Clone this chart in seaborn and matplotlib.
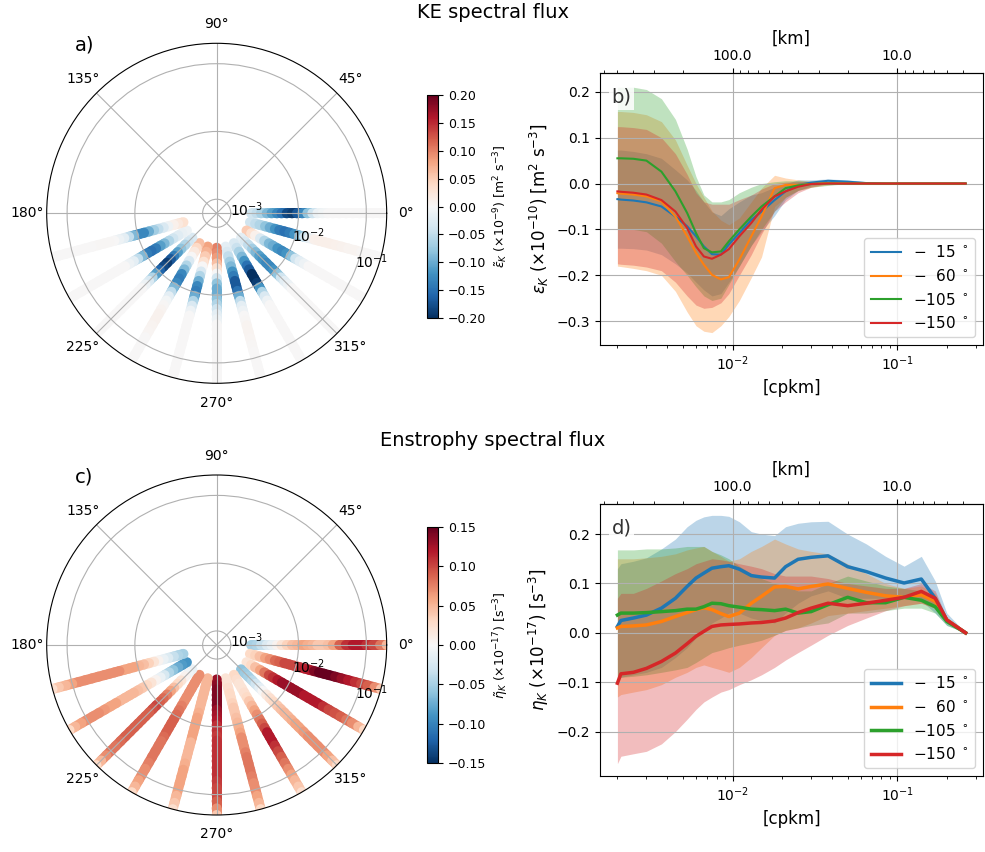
import numpy as np
import matplotlib
matplotlib.use("Agg")
import matplotlib.pyplot as plt
import seaborn as sns
from matplotlib.collections import LineCollection
from matplotlib.cm import ScalarMappable
from matplotlib.ticker import FixedLocator, FormatStrFormatter

# ---------------------------------------------------------------- data
# wavenumber grid of the line panels [cpkm]
k = [0.002, 0.0021, 0.0025, 0.003, 0.0037, 0.0045, 0.0053, 0.006, 0.0067, 0.0075,
     0.0085, 0.0095, 0.011, 0.013, 0.015, 0.018, 0.021, 0.025, 0.03, 0.038,
     0.05, 0.065, 0.085, 0.11, 0.14, 0.17, 0.2, 0.26]

angle_labels = ['$-$\u200715 $^\\circ$', '$-$\u200760 $^\\circ$',
                '$-$105 $^\\circ$', '$-$150 $^\\circ$']

# KE flux, panel b (x1e-10)
ke_15 = [-0.034, -0.035, -0.037, -0.041, -0.05, -0.072, -0.093, -0.115, -0.137, -0.154,
         -0.155, -0.133, -0.108, -0.079, -0.061, -0.036, -0.017, -0.003, 0.002, 0.006,
         0.004, 0.001, 0.0, 0.0, 0.0, 0.0, 0.0, 0.0]
ke_15_lo = [-0.141, -0.141, -0.142, -0.145, -0.155, -0.175, -0.195, -0.215, -0.232, -0.245,
            -0.24, -0.215, -0.18, -0.135, -0.105, -0.07, -0.035, -0.015, -0.005, 0.0,
            0.0, -0.002, 0.0, 0.0, 0.0, 0.0, 0.0, 0.0]
ke_15_hi = [0.073, 0.073, 0.07, 0.065, 0.055, 0.03, 0.008, -0.015, -0.04, -0.062,
            -0.07, -0.055, -0.04, -0.025, -0.02, -0.008, 0.0, 0.008, 0.008, 0.01,
            0.008, 0.004, 0.0, 0.0, 0.0, 0.0, 0.0, 0.0]

ke_60 = [-0.021, -0.022, -0.024, -0.028, -0.039, -0.072, -0.115, -0.151, -0.177, -0.199,
         -0.209, -0.204, -0.166, -0.115, -0.072, -0.01, -0.003, -0.003, -0.001, 0.001,
         0.0, 0.0, 0.0, 0.0, 0.0, 0.0, 0.0, 0.0]
ke_60_lo = [-0.18, -0.181, -0.185, -0.19, -0.2, -0.235, -0.28, -0.31, -0.322, -0.325,
            -0.31, -0.29, -0.255, -0.205, -0.16, -0.05, -0.03, -0.015, -0.008, -0.003,
            0.0, 0.0, 0.0, 0.0, 0.0, 0.0, 0.0, 0.0]
ke_60_hi = [0.157, 0.157, 0.155, 0.15, 0.135, 0.095, 0.04, 0.0, -0.03, -0.06,
            -0.08, -0.09, -0.075, -0.04, -0.01, 0.018, 0.012, 0.008, 0.005, 0.004,
            0.0, 0.0, 0.0, 0.0, 0.0, 0.0, 0.0, 0.0]

ke_105 = [0.055, 0.055, 0.054, 0.05, 0.026, -0.017, -0.064, -0.108, -0.141, -0.15,
          -0.148, -0.126, -0.1, -0.072, -0.05, -0.028, -0.01, -0.004, -0.001, 0.0,
          0.0, 0.0, 0.0, 0.0, 0.0, 0.0, 0.0, 0.0]
ke_105_lo = [-0.1, -0.1, -0.1, -0.105, -0.13, -0.17, -0.2, -0.225, -0.245, -0.255,
             -0.25, -0.22, -0.18, -0.135, -0.1, -0.06, -0.03, -0.015, -0.008, -0.004,
             0.0, 0.0, 0.0, 0.0, 0.0, 0.0, 0.0, 0.0]
ke_105_hi = [0.21, 0.21, 0.21, 0.205, 0.185, 0.14, 0.075, 0.015, -0.025, -0.04,
             -0.04, -0.035, -0.02, -0.008, 0.0, 0.004, 0.006, 0.006, 0.005, 0.004,
             0.0, 0.0, 0.0, 0.0, 0.0, 0.0, 0.0, 0.0]

ke_150 = [-0.017, -0.018, -0.02, -0.024, -0.036, -0.061, -0.097, -0.137, -0.159, -0.164,
          -0.155, -0.143, -0.115, -0.086, -0.057, -0.028, -0.017, -0.007, -0.001, 0.0,
          0.0, 0.0, 0.0, 0.0, 0.0, 0.0, 0.0, 0.0]
ke_150_lo = [-0.175, -0.176, -0.178, -0.182, -0.19, -0.215, -0.245, -0.265, -0.272, -0.27,
             -0.26, -0.24, -0.2, -0.155, -0.11, -0.06, -0.04, -0.02, -0.008, 0.0,
             0.0, 0.0, 0.0, 0.0, 0.0, 0.0, 0.0, 0.0]
ke_150_hi = [0.124, 0.124, 0.122, 0.118, 0.1, 0.065, 0.02, -0.02, -0.04, -0.045,
             -0.045, -0.045, -0.035, -0.025, -0.012, 0.0, 0.003, 0.004, 0.004, 0.0,
             0.0, 0.0, 0.0, 0.0, 0.0, 0.0, 0.0, 0.0]

# enstrophy flux, panel d (x1e-17)
en_15 = [0.013, 0.025, 0.03, 0.036, 0.05, 0.07, 0.094, 0.111, 0.121, 0.131,
         0.134, 0.136, 0.129, 0.116, 0.113, 0.111, 0.134, 0.149, 0.153, 0.156,
         0.134, 0.124, 0.111, 0.101, 0.109, 0.07, 0.026, 0.0]
en_15_lo = [-0.1, -0.09, -0.085, -0.08, -0.07, -0.05, -0.03, -0.01, 0.005, 0.02,
            0.03, 0.04, 0.04, 0.03, 0.025, 0.02, 0.04, 0.06, 0.075, 0.085,
            0.07, 0.07, 0.07, 0.07, 0.065, 0.04, 0.015, 0.0]
en_15_hi = [0.13, 0.14, 0.145, 0.152, 0.17, 0.19, 0.215, 0.228, 0.235, 0.238,
            0.238, 0.236, 0.225, 0.205, 0.2, 0.197, 0.215, 0.222, 0.225, 0.226,
            0.2, 0.18, 0.155, 0.135, 0.155, 0.105, 0.04, 0.0]

en_60 = [0.01, 0.013, 0.014, 0.016, 0.023, 0.033, 0.041, 0.047, 0.051, 0.047,
         0.039, 0.033, 0.04, 0.06, 0.074, 0.093, 0.094, 0.089, 0.094, 0.099,
         0.09, 0.082, 0.075, 0.072, 0.077, 0.064, 0.026, 0.0]
en_60_lo = [-0.13, -0.125, -0.12, -0.115, -0.105, -0.09, -0.08, -0.07, -0.065, -0.07,
            -0.075, -0.08, -0.07, -0.05, -0.03, -0.005, 0.005, 0.01, 0.02, 0.035,
            0.04, 0.045, 0.05, 0.055, 0.06, 0.05, 0.02, 0.0]
en_60_hi = [0.15, 0.15, 0.15, 0.152, 0.155, 0.16, 0.168, 0.172, 0.175, 0.165,
            0.155, 0.145, 0.15, 0.165, 0.175, 0.19, 0.18, 0.17, 0.165, 0.16,
            0.14, 0.12, 0.1, 0.09, 0.095, 0.08, 0.032, 0.0]

en_105 = [0.036, 0.04, 0.04, 0.041, 0.043, 0.045, 0.048, 0.048, 0.053, 0.06,
          0.059, 0.055, 0.052, 0.048, 0.047, 0.045, 0.048, 0.04, 0.043, 0.057,
          0.072, 0.061, 0.061, 0.072, 0.066, 0.053, 0.023, 0.0]
en_105_lo = [-0.095, -0.09, -0.088, -0.085, -0.08, -0.075, -0.07, -0.06, -0.05, -0.04,
             -0.035, -0.03, -0.025, -0.02, -0.015, -0.005, 0.005, 0.01, 0.015, 0.02,
             0.04, 0.04, 0.045, 0.05, 0.05, 0.04, 0.015, 0.0]
en_105_hi = [0.168, 0.168, 0.168, 0.17, 0.17, 0.172, 0.175, 0.175, 0.175, 0.165,
             0.158, 0.15, 0.135, 0.12, 0.11, 0.1, 0.095, 0.085, 0.085, 0.1,
             0.115, 0.105, 0.095, 0.09, 0.085, 0.07, 0.03, 0.0]

en_150 = [-0.102, -0.083, -0.08, -0.072, -0.058, -0.041, -0.022, -0.007, 0.003, 0.013,
          0.016, 0.017, 0.018, 0.02, 0.021, 0.024, 0.03, 0.041, 0.05, 0.06,
          0.055, 0.06, 0.066, 0.072, 0.084, 0.07, 0.026, 0.0]
en_150_lo = [-0.265, -0.25, -0.245, -0.24, -0.225, -0.2, -0.175, -0.155, -0.14, -0.13,
             -0.12, -0.115, -0.105, -0.095, -0.085, -0.07, -0.055, -0.04, -0.025, -0.005,
             0.015, 0.03, 0.045, 0.055, 0.06, 0.05, 0.02, 0.0]
en_150_hi = [0.07, 0.08, 0.08, 0.09, 0.105, 0.12, 0.13, 0.14, 0.145, 0.15,
             0.148, 0.145, 0.14, 0.135, 0.13, 0.12, 0.115, 0.115, 0.115, 0.11,
             0.1, 0.095, 0.09, 0.09, 0.1, 0.085, 0.03, 0.0]

# polar panels: direction of each ray [deg] and wavenumbers along a ray [cpkm]
ray_angles = [0, -15, -30, -45, -60, -75, -90, -105, -120, -135, -150, -165]
k_polar = [0.002, 0.0024, 0.0028, 0.0034, 0.004, 0.0048, 0.0056, 0.0067, 0.008, 0.0095,
           0.0113, 0.0135, 0.016, 0.019, 0.0226, 0.027, 0.032, 0.04, 0.05, 0.063,
           0.08, 0.1, 0.125, 0.16, 0.2, 0.24]

# panel a, x1e-9, one row per ray angle
ke_rays = [
    [-0.04, -0.05, -0.065, -0.09, -0.11, -0.13, -0.15, -0.18, -0.19, -0.17,
     -0.13, -0.08, -0.04, -0.01, -0.005, 0, 0, 0, 0, 0, 0, 0, 0, 0, 0, 0],
    [-0.04, -0.05, -0.06, -0.08, -0.1, -0.12, -0.14, -0.15, -0.14, -0.12,
     -0.08, -0.04, -0.01, 0.01, 0.012, 0.012, 0.012, 0.01, 0.008, 0.006, 0.005, 0.003, 0, 0, 0, 0],
    [0.05, 0.03, 0.01, -0.03, -0.06, -0.09, -0.1, -0.12, -0.13, -0.12,
     -0.08, -0.04, -0.02, -0.01, 0, 0, 0, 0, 0, 0, 0, 0, 0, 0, 0, 0],
    [-0.02, -0.03, -0.05, -0.07, -0.09, -0.11, -0.12, -0.13, -0.13, -0.12,
     -0.08, -0.04, -0.02, -0.01, 0, 0, 0, 0, 0, 0, 0, 0, 0, 0, 0, 0],
    [-0.03, -0.045, -0.065, -0.09, -0.12, -0.15, -0.17, -0.2, -0.2, -0.19,
     -0.12, -0.06, -0.03, -0.01, 0, 0, 0, 0, 0, 0, 0, 0, 0, 0, 0, 0],
    [-0.02, -0.03, -0.05, -0.07, -0.09, -0.12, -0.14, -0.17, -0.17, -0.15,
     -0.1, -0.05, -0.02, -0.01, 0, 0.003, 0.005, 0.005, 0.004, 0.003, 0, 0, 0, 0, 0, 0],
    [0.1, 0.095, 0.085, 0.06, 0.03, 0.0, -0.04, -0.08, -0.1, -0.1,
     -0.08, -0.06, -0.04, -0.02, -0.01, 0, 0, 0, 0, 0, 0, 0, 0, 0, 0, 0],
    [0.08, 0.07, 0.05, 0.03, 0.0, -0.03, -0.06, -0.1, -0.13, -0.14,
     -0.1, -0.06, -0.03, -0.01, 0, 0, 0, 0, 0, 0, 0, 0, 0, 0, 0, 0],
    [0.06, 0.04, 0.02, 0.0, -0.03, -0.06, -0.09, -0.13, -0.14, -0.13,
     -0.09, -0.05, -0.02, -0.005, 0.003, 0.006, 0.008, 0.008, 0.006, 0.004, 0, 0, 0, 0, 0, 0],
    [-0.03, -0.04, -0.06, -0.08, -0.11, -0.14, -0.17, -0.19, -0.18, -0.16,
     -0.11, -0.06, -0.03, -0.01, 0, 0, 0, 0, 0, 0, 0, 0, 0, 0, 0, 0],
    [-0.01, -0.015, -0.025, -0.04, -0.06, -0.09, -0.11, -0.14, -0.15, -0.14,
     -0.09, -0.05, -0.02, -0.01, 0, 0, 0, 0, 0, 0, 0, 0, 0, 0, 0, 0],
    [0.03, 0.02, 0.01, -0.01, -0.03, -0.05, -0.07, -0.1, -0.13, -0.13,
     -0.09, -0.05, -0.02, -0.01, 0, 0.002, 0.003, 0.003, 0, 0, 0, 0, 0, 0, 0, 0],
]

# panel c, x1e-17, one row per ray angle
en_rays = [
    [-0.05, -0.045, -0.035, -0.02, -0.01, 0.005, 0.02, 0.035, 0.045, 0.05,
     0.06, 0.055, 0.05, 0.04, 0.04, 0.045, 0.06, 0.09, 0.11, 0.12, 0.12, 0.11, 0.1, 0.08, 0.05, 0.02],
    [0.03, 0.035, 0.045, 0.06, 0.07, 0.085, 0.09, 0.1, 0.1, 0.1,
     0.11, 0.115, 0.12, 0.14, 0.15, 0.15, 0.15, 0.14, 0.13, 0.12, 0.11, 0.1, 0.09, 0.07, 0.04, 0.01],
    [0.02, 0.03, 0.045, 0.06, 0.08, 0.1, 0.11, 0.12, 0.13, 0.13,
     0.13, 0.13, 0.13, 0.12, 0.12, 0.12, 0.12, 0.11, 0.1, 0.095, 0.09, 0.08, 0.07, 0.05, 0.03, 0.01],
    [-0.06, -0.055, -0.05, -0.04, -0.03, -0.015, 0.0, 0.015, 0.025, 0.03,
     0.04, 0.045, 0.05, 0.05, 0.055, 0.06, 0.06, 0.065, 0.07, 0.07, 0.07, 0.07, 0.06, 0.045, 0.03, 0.01],
    [0.03, 0.025, 0.02, 0.02, 0.025, 0.03, 0.04, 0.05, 0.06, 0.07,
     0.08, 0.09, 0.1, 0.12, 0.12, 0.12, 0.11, 0.1, 0.09, 0.08, 0.07, 0.06, 0.05, 0.04, 0.025, 0.01],
    [0.02, 0.02, 0.025, 0.03, 0.03, 0.035, 0.04, 0.04, 0.045, 0.05,
     0.055, 0.06, 0.07, 0.07, 0.07, 0.075, 0.08, 0.08, 0.08, 0.075, 0.07, 0.07, 0.06, 0.05, 0.03, 0.01],
    [0.13, 0.135, 0.14, 0.14, 0.14, 0.14, 0.13, 0.125, 0.12, 0.11,
     0.11, 0.105, 0.11, 0.11, 0.11, 0.11, 0.11, 0.11, 0.11, 0.105, 0.1, 0.1, 0.09, 0.07, 0.04, 0.01],
    [0.05, 0.05, 0.05, 0.05, 0.05, 0.05, 0.05, 0.055, 0.06, 0.06,
     0.06, 0.06, 0.06, 0.05, 0.05, 0.05, 0.05, 0.055, 0.06, 0.06, 0.06, 0.06, 0.05, 0.04, 0.025, 0.01],
    [0.07, 0.07, 0.07, 0.07, 0.07, 0.07, 0.07, 0.075, 0.08, 0.085,
     0.09, 0.09, 0.09, 0.09, 0.085, 0.08, 0.08, 0.08, 0.08, 0.075, 0.07, 0.07, 0.06, 0.05, 0.03, 0.01],
    [-0.01, -0.005, 0.005, 0.02, 0.03, 0.045, 0.06, 0.075, 0.085, 0.09,
     0.1, 0.095, 0.09, 0.09, 0.09, 0.09, 0.09, 0.09, 0.09, 0.085, 0.08, 0.08, 0.07, 0.05, 0.03, 0.01],
    [-0.09, -0.085, -0.075, -0.06, -0.045, -0.025, -0.01, 0.005, 0.02, 0.03,
     0.04, 0.045, 0.05, 0.05, 0.05, 0.05, 0.06, 0.06, 0.065, 0.07, 0.07, 0.07, 0.06, 0.05, 0.03, 0.01],
    [-0.05, -0.045, -0.035, -0.02, -0.01, 0.005, 0.02, 0.035, 0.045, 0.05,
     0.06, 0.06, 0.06, 0.07, 0.07, 0.07, 0.07, 0.07, 0.07, 0.07, 0.07, 0.06, 0.05, 0.04, 0.025, 0.01],
]

# ---------------------------------------------------------------- plotting
W, H = 985, 852
fig = plt.figure(figsize=(W / 100, H / 100), dpi=100)


def frac(x0, y0, x1, y1):
    # pixel box -> figure fraction rect
    return [x0 / W, 1 - y1 / H, (x1 - x0) / W, (y1 - y0) / H]


def polar_panel(box, rays, vmax, cb_box, cb_ticks, cb_label):
    ax = fig.add_axes(frac(*box), projection='polar')
    ax.set_rscale('log')
    ax.set_rlim(6.2e-4, 0.2)
    norm = plt.Normalize(-vmax, vmax)
    kp = np.asarray(k_polar)
    for ang, vals in zip(ray_angles, rays):
        th = np.full(len(kp), np.deg2rad(ang))
        pts = np.column_stack([th, kp])
        segs = np.stack([pts[:-1], pts[1:]], axis=1)
        lc = LineCollection(segs, cmap='RdBu_r', norm=norm, linewidths=7.2, zorder=1)
        lc.set_array(np.asarray(vals[:-1], dtype=float))
        ax.add_collection(lc, autolim=False)
        ax.scatter(th, kp, c=vals, cmap='RdBu_r', norm=norm, s=52, linewidths=0, zorder=1.1)
    ax.set_rlim(6.2e-4, 0.2)
    ax.set_rlabel_position(-22.5)
    ax.tick_params(labelsize=10)
    ax.grid(True, color='#b0b0b0', lw=0.8)
    cax = fig.add_axes(frac(*cb_box))
    cb = fig.colorbar(ScalarMappable(norm=norm, cmap='RdBu_r'), cax=cax, ticks=cb_ticks)
    cb.ax.tick_params(labelsize=9)
    cb.set_label(cb_label, fontsize=9)
    return ax


def inv(x):
    x = np.asarray(x, dtype=float)
    with np.errstate(divide='ignore'):
        return 1.0 / x


def line_panel(box, series, ylim, yticks, ylabel, lw, tag):
    ax = fig.add_axes(frac(*box))
    colors = ['C0', 'C1', 'C2', 'C3']
    for (m, lo, hi), col, lab in zip(series, colors, angle_labels):
        ax.fill_between(k, lo, hi, color=col, alpha=0.3, lw=0)
        sns.lineplot(x=k, y=m, ax=ax, color=col, lw=lw, label=lab)
    ax.set_xscale('log')
    ax.set_ylim(*ylim)
    ax.set_yticks(yticks)
    ax.grid(True, color='#b0b0b0', lw=0.8)
    ax.tick_params(labelsize=10)
    ax.set_xlabel('[cpkm]', fontsize=12)
    ax.set_ylabel(ylabel, fontsize=12)
    ax.legend(loc='lower right', fontsize=11, handlelength=2.0)
    sec = ax.secondary_xaxis('top', functions=(inv, inv))
    sec.xaxis.set_major_locator(FixedLocator([100, 10]))
    sec.xaxis.set_major_formatter(FormatStrFormatter('%.1f'))
    sec.tick_params(labelsize=10)
    sec.set_xlabel('[km]', fontsize=12)
    ax.text(0.03, 0.91, tag, transform=ax.transAxes, fontsize=14, va='center',
            color='#333333', bbox=dict(facecolor='white', edgecolor='none', alpha=0.85, pad=2))
    return ax


polar_panel((46.7, 43.3, 386.7, 383.3), ke_rays, 0.2, (427, 95, 438, 318),
            [-0.2, -0.15, -0.1, -0.05, 0.0, 0.05, 0.1, 0.15, 0.2],
            r'$\tilde{\varepsilon}_K$ ($\times 10^{-9}$) [m$^2$ s$^{-3}$]')
polar_panel((46.7, 475, 386.7, 815), en_rays, 0.15, (427, 527, 438, 763),
            [-0.15, -0.1, -0.05, 0.0, 0.05, 0.1, 0.15],
            r'$\tilde{\eta}_K$ ($\times 10^{-17}$) [s$^{-3}$]')

line_panel((600, 73, 983, 345),
           [(ke_15, ke_15_lo, ke_15_hi), (ke_60, ke_60_lo, ke_60_hi),
            (ke_105, ke_105_lo, ke_105_hi), (ke_150, ke_150_lo, ke_150_hi)],
           (-0.352, 0.241), [-0.3, -0.2, -0.1, 0.0, 0.1, 0.2],
           r'$\varepsilon_K$ ($\times 10^{-10}$) [m$^2$ s$^{-3}$]', 1.5, 'b)')
line_panel((600, 504, 983, 776),
           [(en_15, en_15_lo, en_15_hi), (en_60, en_60_lo, en_60_hi),
            (en_105, en_105_lo, en_105_hi), (en_150, en_150_lo, en_150_hi)],
           (-0.29, 0.261), [-0.2, -0.1, 0.0, 0.1, 0.2],
           r'$\eta_K$ ($\times 10^{-17}$) [s$^{-3}$]', 2.5, 'd)')

fig.text(493 / W, 1 - 12 / H, 'KE spectral flux', ha='center', va='center', fontsize=14)
fig.text(493 / W, 1 - 440 / H, 'Enstrophy spectral flux', ha='center', va='center', fontsize=14)
fig.text(75 / W, 1 - 45 / H, 'a)', ha='left', va='center', fontsize=14)
fig.text(75 / W, 1 - 477 / H, 'c)', ha='left', va='center', fontsize=14)

fig.savefig('out.png', dpi=100)
